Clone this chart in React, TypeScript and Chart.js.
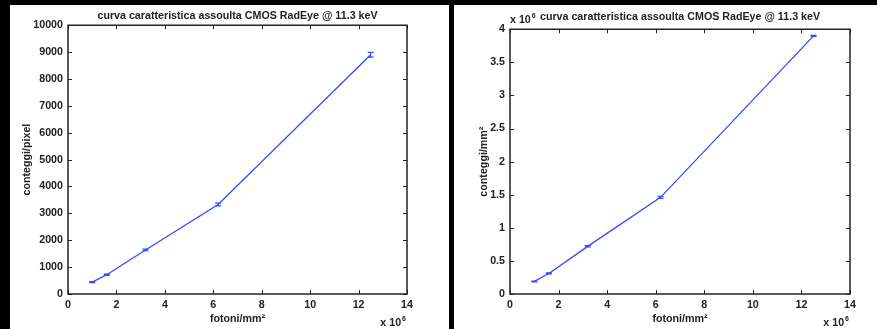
import React, { useEffect, useRef } from 'react';
import { Chart, registerables } from 'chart.js';

Chart.register(...registerables);

// ---- data (x in units of 10^6 fotoni/mm²) ----
const TITLE = 'curva caratteristica assoulta CMOS RadEye @ 11.3 keV';
const X_LABEL = 'fotoni/mm²';
const Y_LABEL_LEFT = 'conteggi/pixel';
const Y_LABEL_RIGHT = 'conteggi/mm²';

const photons = [1.0, 1.6, 3.2, 6.2, 12.5];
const countsPerPixel = [440, 715, 1640, 3330, 8900];
const countsPerPixelErr = [20, 25, 30, 50, 90];
const countsPerMm2 = [0.19, 0.31, 0.72, 1.46, 3.9]; // x 10^6
const countsPerMm2Err = [0.006, 0.008, 0.01, 0.015, 0.008];

const xTickValues = [0, 2, 4, 6, 8, 10, 12, 14];
const yTickValuesLeft = [0, 1000, 2000, 3000, 4000, 5000, 6000, 7000, 8000, 9000, 10000];
const yTickValuesRight = [0, 0.5, 1, 1.5, 2, 2.5, 3, 3.5, 4];

const FONT_FAMILY = "'Liberation Sans', Arial, Helvetica, sans-serif";
const FONT_SIZE = 10.7;
const LINE_COLOR = 'rgb(50,75,255)';
const AXIS_COLOR = '#222';

const matlabPlugin = {
  id: 'matlabFrame',
  afterDatasetsDraw(chart: any) {
    const opts = chart.options.plugins.matlabFrame || {};
    const { ctx, scales } = chart;
    const xs = scales.x;
    const ys = scales.y;
    const errs: number[] = opts.errors || [];
    const data = chart.data.datasets[0].data as { x: number; y: number }[];
    ctx.save();
    ctx.strokeStyle = LINE_COLOR;
    ctx.lineWidth = 1.2;
    data.forEach((p, i) => {
      const e = errs[i] || 0;
      const px = xs.getPixelForValue(p.x);
      const top = ys.getPixelForValue(p.y + e);
      const bot = ys.getPixelForValue(p.y - e);
      ctx.beginPath();
      ctx.moveTo(px, top);
      ctx.lineTo(px, bot);
      ctx.moveTo(px - 3, top);
      ctx.lineTo(px + 3, top);
      ctx.moveTo(px - 3, bot);
      ctx.lineTo(px + 3, bot);
      ctx.stroke();
    });
    ctx.restore();
  },
  afterDraw(chart: any) {
    const opts = chart.options.plugins.matlabFrame || {};
    const { ctx, chartArea: a, scales } = chart;
    ctx.save();
    ctx.strokeStyle = AXIS_COLOR;
    ctx.lineWidth = 1.5;
    ctx.strokeRect(a.left, a.top, a.right - a.left, a.bottom - a.top);
    ctx.lineWidth = 1;
    const TL = 4;
    scales.x.ticks.forEach((t: any) => {
      const px = Math.round(scales.x.getPixelForValue(t.value)) + 0.5;
      ctx.beginPath();
      ctx.moveTo(px, a.bottom);
      ctx.lineTo(px, a.bottom - TL);
      ctx.moveTo(px, a.top);
      ctx.lineTo(px, a.top + TL);
      ctx.stroke();
    });
    scales.y.ticks.forEach((t: any) => {
      const py = Math.round(scales.y.getPixelForValue(t.value)) + 0.5;
      ctx.beginPath();
      ctx.moveTo(a.left, py);
      ctx.lineTo(a.left + TL, py);
      ctx.moveTo(a.right, py);
      ctx.lineTo(a.right - TL, py);
      ctx.stroke();
    });
    // exponent labels
    const drawExp = (xEnd: number | null, xStart: number | null, baseline: number) => {
      ctx.fillStyle = AXIS_COLOR;
      ctx.textBaseline = 'alphabetic';
      ctx.textAlign = 'left';
      ctx.font = `bold ${FONT_SIZE}px ${FONT_FAMILY}`;
      const main = 'x 10';
      const wMain = ctx.measureText(main).width;
      ctx.font = `bold 7px ${FONT_FAMILY}`;
      const wSup = ctx.measureText('6').width;
      const x0 = xStart !== null ? xStart : (xEnd as number) - wMain - wSup - 1;
      ctx.font = `bold ${FONT_SIZE}px ${FONT_FAMILY}`;
      ctx.fillText(main, x0, baseline);
      ctx.font = `bold 7px ${FONT_FAMILY}`;
      ctx.fillText('6', x0 + wMain + 1, baseline - 5);
    };
    drawExp(a.right - 1, null, a.bottom + 32);
    if (opts.topExponent) drawExp(null, a.left, a.top - 6);
    ctx.restore();
  },
};

type PanelProps = {
  width: number;
  height: number;
  left: number;
  ys: number[];
  errs: number[];
  yTicks: number[];
  yLabel: string;
  yAxisWidth: number;
  yTitlePad: number;
  rightPad: number;
  titlePadTop: number;
  titlePadBottom: number;
  topExponent: boolean;
};

function Panel(p: PanelProps) {
  const ref = useRef<HTMLCanvasElement | null>(null);
  useEffect(() => {
    if (!ref.current) return;
    const font = { family: FONT_FAMILY, size: FONT_SIZE, weight: 'bold' as const, lineHeight: 1.2 };
    const chart = new Chart(ref.current, {
      type: 'line',
      data: {
        datasets: [
          {
            data: photons.map((x, i) => ({ x, y: p.ys[i] })),
            borderColor: LINE_COLOR,
            borderWidth: 1.3,
            pointRadius: 0,
            fill: false,
            tension: 0,
          },
        ],
      },
      plugins: [matlabPlugin],
      options: {
        responsive: false,
        animation: false,
        devicePixelRatio: 1,
        layout: { padding: { left: 0, right: p.rightPad, top: 0, bottom: 0 } },
        plugins: {
          legend: { display: false },
          tooltip: { enabled: false },
          title: {
            display: true,
            text: TITLE,
            fullSize: false,
            color: AXIS_COLOR,
            font,
            padding: { top: p.titlePadTop, bottom: p.titlePadBottom },
          },
          matlabFrame: { errors: p.errs, topExponent: p.topExponent },
        } as any,
        scales: {
          x: {
            type: 'linear',
            min: xTickValues[0],
            max: xTickValues[xTickValues.length - 1],
            afterBuildTicks: (s: any) => {
              s.ticks = xTickValues.map((v) => ({ value: v }));
            },
            afterFit: (s: any) => {
              s.height = 35;
            },
            grid: { display: false, drawTicks: false },
            border: { display: false },
            ticks: { color: AXIS_COLOR, font, padding: 5, maxRotation: 0, callback: (v: any) => String(v) },
            title: { display: true, text: X_LABEL, color: AXIS_COLOR, font, padding: { top: 0, bottom: 3.7 } },
          },
          y: {
            type: 'linear',
            min: p.yTicks[0],
            max: p.yTicks[p.yTicks.length - 1],
            afterBuildTicks: (s: any) => {
              s.ticks = p.yTicks.map((v) => ({ value: v }));
            },
            afterFit: (s: any) => {
              s.width = p.yAxisWidth;
            },
            grid: { display: false, drawTicks: false },
            border: { display: false },
            ticks: { color: AXIS_COLOR, font, padding: 5, callback: (v: any) => String(v) },
            title: { display: true, text: p.yLabel, color: AXIS_COLOR, font, padding: { top: p.yTitlePad, bottom: 0 } },
          },
        },
      },
    });
    return () => chart.destroy();
  }, []);
  return (
    <div
      style={{
        position: 'absolute',
        left: p.left,
        top: 5,
        width: p.width,
        height: p.height,
        background: '#fff',
      }}
    >
      <canvas ref={ref} width={p.width} height={p.height} style={{ display: 'block' }} />
    </div>
  );
}

export default function App() {
  return (
    <div
      style={{
        position: 'fixed',
        left: 0,
        top: 0,
        width: 877,
        height: 329,
        background: '#000',
        overflow: 'hidden',
      }}
    >
      <Panel
        width={439}
        height={324}
        left={10}
        ys={countsPerPixel}
        errs={countsPerPixelErr}
        yTicks={yTickValuesLeft}
        yLabel={Y_LABEL_LEFT}
        yAxisWidth={58}
        yTitlePad={10.7}
        rightPad={42}
        titlePadTop={4.2}
        titlePadBottom={3.2}
        topExponent={false}
      />
      <Panel
        width={423}
        height={324}
        left={454}
        ys={countsPerMm2}
        errs={countsPerMm2Err}
        yTicks={yTickValuesRight}
        yLabel={Y_LABEL_RIGHT}
        yAxisWidth={56}
        yTitlePad={23.4}
        rightPad={27}
        titlePadTop={5.2}
        titlePadBottom={6.2}
        topExponent={true}
      />
    </div>
  );
}
